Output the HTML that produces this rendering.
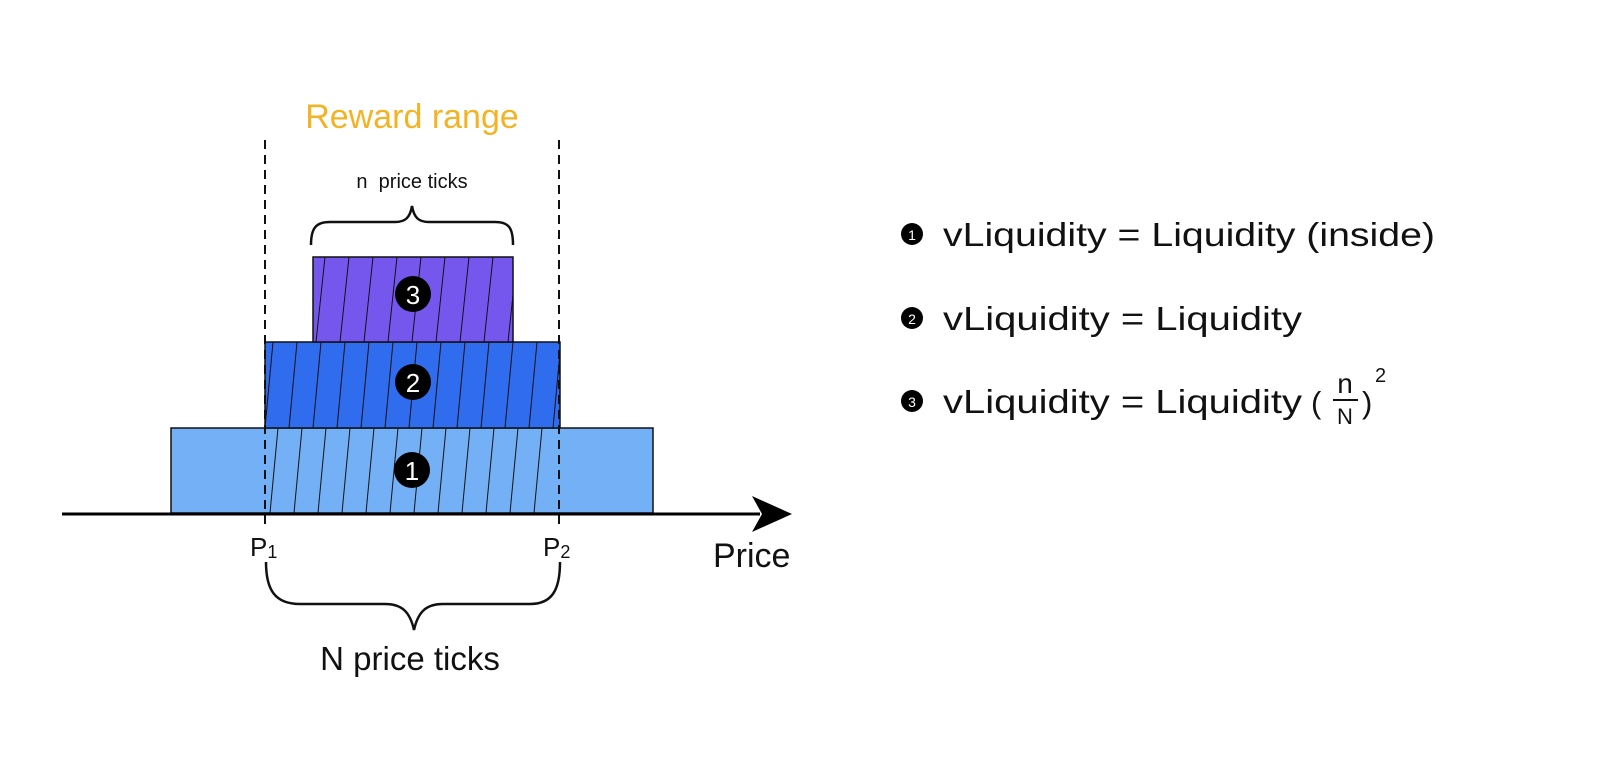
<!DOCTYPE html>
<html><head><meta charset="utf-8"><style>
html,body{margin:0;padding:0;background:#fff;}
svg{display:block;}
text{font-family:"Liberation Sans",sans-serif;}
</style></head><body>
<svg width="1600" height="770" viewBox="0 0 1600 770" xmlns="http://www.w3.org/2000/svg">
<defs>
<clipPath id="c1"><rect x="265" y="428" width="295" height="85"/></clipPath>
<clipPath id="c2"><rect x="265" y="342" width="295" height="86"/></clipPath>
<clipPath id="c3"><rect x="313" y="257" width="200" height="85"/></clipPath>
</defs>
<rect x="171" y="428" width="482" height="85" fill="#74b0f5" stroke="#111" stroke-width="1.5"/>
<g clip-path="url(#c1)" stroke="#111" stroke-width="1">
<line x1="270" y1="513" x2="278" y2="428"/><line x1="294" y1="513" x2="302" y2="428"/><line x1="318" y1="513" x2="326" y2="428"/><line x1="342" y1="513" x2="350" y2="428"/><line x1="366" y1="513" x2="374" y2="428"/><line x1="390" y1="513" x2="398" y2="428"/><line x1="414" y1="513" x2="422" y2="428"/><line x1="438" y1="513" x2="446" y2="428"/><line x1="462" y1="513" x2="470" y2="428"/><line x1="486" y1="513" x2="494" y2="428"/><line x1="510" y1="513" x2="518" y2="428"/><line x1="534" y1="513" x2="542" y2="428"/>
</g>
<rect x="265" y="342" width="295" height="86" fill="#306cee" stroke="#111" stroke-width="1.5"/>
<g clip-path="url(#c2)" stroke="#111" stroke-width="1">
<line x1="265" y1="428" x2="273" y2="342"/><line x1="289" y1="428" x2="297" y2="342"/><line x1="313" y1="428" x2="321" y2="342"/><line x1="337" y1="428" x2="345" y2="342"/><line x1="361" y1="428" x2="369" y2="342"/><line x1="385" y1="428" x2="393" y2="342"/><line x1="409" y1="428" x2="417" y2="342"/><line x1="433" y1="428" x2="441" y2="342"/><line x1="457" y1="428" x2="465" y2="342"/><line x1="481" y1="428" x2="489" y2="342"/><line x1="505" y1="428" x2="513" y2="342"/><line x1="529" y1="428" x2="537" y2="342"/><line x1="553" y1="428" x2="561" y2="342"/>
</g>
<rect x="313" y="257" width="200" height="85" fill="#7557ee" stroke="#111" stroke-width="1.5"/>
<g clip-path="url(#c3)" stroke="#111" stroke-width="1">
<line x1="316" y1="342" x2="325" y2="257"/><line x1="340" y1="342" x2="349" y2="257"/><line x1="364" y1="342" x2="373" y2="257"/><line x1="388" y1="342" x2="397" y2="257"/><line x1="412" y1="342" x2="421" y2="257"/><line x1="436" y1="342" x2="445" y2="257"/><line x1="460" y1="342" x2="469" y2="257"/><line x1="484" y1="342" x2="493" y2="257"/><line x1="508" y1="342" x2="517" y2="257"/>
</g>
<line x1="265" y1="140" x2="265" y2="528" stroke="#111" stroke-width="2" stroke-dasharray="9,6"/>
<line x1="559" y1="140" x2="559" y2="528" stroke="#111" stroke-width="2" stroke-dasharray="9,6"/>
<line x1="62" y1="514" x2="760" y2="514" stroke="#000" stroke-width="3"/>
<polygon points="792,514 752,496 762,514 752,532" fill="#000"/>
<circle cx="413" cy="294" r="18" fill="#000"/><text x="413" y="304" font-size="26" fill="#fff" text-anchor="middle">3</text>
<circle cx="413" cy="382" r="18" fill="#000"/><text x="413" y="392" font-size="26" fill="#fff" text-anchor="middle">2</text>
<circle cx="412" cy="470" r="18" fill="#000"/><text x="412" y="480" font-size="26" fill="#fff" text-anchor="middle">1</text>
<text x="412" y="128" font-size="34" fill="#f3b324" text-anchor="middle">Reward range</text>
<text x="412" y="188" font-size="20" fill="#111" text-anchor="middle">n&#160;&#160;price ticks</text>
<path d="M311,245 C311,228 316,222 330,222 L395,222 C405,222 410,218 412,206 C414,218 419,222 429,222 L495,222 C509,222 513,228 513,245" fill="none" stroke="#111" stroke-width="2.5"/>
<text x="250" y="556" font-size="26" fill="#111">P<tspan font-size="18" dy="2">1</tspan></text>
<text x="543" y="556" font-size="26" fill="#111">P<tspan font-size="18" dy="2">2</tspan></text>
<text x="713" y="567" font-size="34" fill="#111">Price</text>
<path d="M266,562 C266,590 275,604 300,604 L385,604 C402,604 410,612 414,630 C418,612 426,604 443,604 L530,604 C552,604 560,590 560,562" fill="none" stroke="#111" stroke-width="2.5"/>
<text x="410" y="670" font-size="33" fill="#111" text-anchor="middle">N price ticks</text>
<circle cx="912" cy="234" r="11" fill="#000"/><text x="912" y="240" font-size="14" fill="#fff" text-anchor="middle">1</text>
<text x="943" y="246" font-size="33" fill="#111" textLength="492" lengthAdjust="spacingAndGlyphs">vLiquidity = Liquidity (inside)</text>
<circle cx="912" cy="318" r="11" fill="#000"/><text x="912" y="324" font-size="14" fill="#fff" text-anchor="middle">2</text>
<text x="943" y="330" font-size="33" fill="#111" textLength="359" lengthAdjust="spacingAndGlyphs">vLiquidity = Liquidity</text>
<circle cx="912" cy="401" r="11" fill="#000"/><text x="912" y="407" font-size="14" fill="#fff" text-anchor="middle">3</text>
<text x="943" y="413" font-size="33" fill="#111" textLength="359" lengthAdjust="spacingAndGlyphs">vLiquidity = Liquidity</text>
<text x="1311" y="413" font-size="31" fill="#111">(</text>
<text x="1345" y="393" font-size="28" fill="#111" text-anchor="middle">n</text>
<line x1="1333" y1="400" x2="1358" y2="400" stroke="#111" stroke-width="2"/>
<text x="1345" y="424" font-size="22" fill="#111" text-anchor="middle">N</text>
<text x="1362" y="413" font-size="31" fill="#111">)</text>
<text x="1375" y="382" font-size="20" fill="#111">2</text>
</svg>
</body></html>
